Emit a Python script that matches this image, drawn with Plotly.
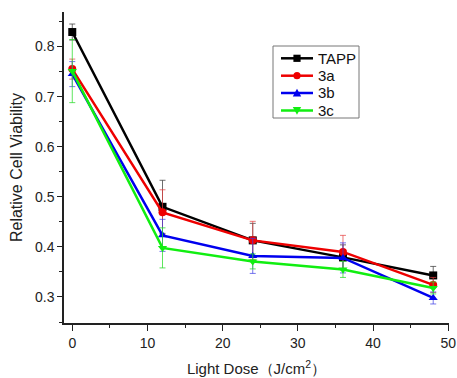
import plotly.graph_objects as go

# Light dose (J/cm^2)
dose = [0, 12, 24, 36, 48]

# Relative cell viability per compound
tapp = [0.829, 0.480, 0.413, 0.379, 0.343]
v3a = [0.755, 0.469, 0.413, 0.390, 0.324]
v3b = [0.745, 0.423, 0.382, 0.378, 0.298]
v3c = [0.751, 0.398, 0.371, 0.355, 0.318]

# Standard deviations
tapp_err = [0.016, 0.053, 0.034, 0.025, 0.018]
v3a_err = [0.020, 0.045, 0.038, 0.033, 0.015]
v3b_err = [0.025, 0.032, 0.035, 0.030, 0.012]
v3c_err = [0.063, 0.040, 0.015, 0.016, 0.012]

names = ["TAPP", "3a", "3b", "3c"]
colors = ["#000000", "#ee0000", "#0000ee", "#11ee11"]
err_colors = ["rgba(60,60,60,0.75)", "rgba(230,60,60,0.7)",
              "rgba(60,60,230,0.7)", "rgba(40,220,40,0.75)"]
symbols = ["square", "circle", "triangle-up", "triangle-down"]

W, H = 457, 378
ML, MR, MT, MB = 64, 8, 12, 55
PW, PH = W - ML - MR, H - MT - MB

fig = go.Figure()
for name, y, err, color, ecolor, symbol in zip(
        names, [tapp, v3a, v3b, v3c], [tapp_err, v3a_err, v3b_err, v3c_err],
        colors, err_colors, symbols):
    fig.add_trace(go.Scatter(
        x=dose, y=y, name=name, mode="lines+markers", showlegend=False,
        line=dict(color=color, width=2.5),
        marker=dict(symbol=symbol, size=8, color=color),
        error_y=dict(type="data", array=err, visible=True,
                     color=ecolor, thickness=1, width=3),
    ))


# Legend box drawn in paper coordinates (pixel helpers)
def px(x):
    return (x - ML) / PW


def py(y):
    return (H - MB - y) / PH


shapes = [dict(type="rect", xref="paper", yref="paper",
               x0=px(273), x1=px(359), y0=py(118), y1=py(46),
               line=dict(color="#777777", width=1), fillcolor="white", layer="above")]
annotations = []
row_y = [58.3, 75.7, 93.0, 110.5]
cx, r = 297, 3.6
for name, color, symbol, yy in zip(names, colors, symbols, row_y):
    shapes.append(dict(type="line", xref="paper", yref="paper",
                       x0=px(281), x1=px(313), y0=py(yy), y1=py(yy),
                       line=dict(color=color, width=2.5), layer="above"))
    if symbol == "square":
        shapes.append(dict(type="rect", xref="paper", yref="paper",
                           x0=px(cx - r), x1=px(cx + r), y0=py(yy + r), y1=py(yy - r),
                           line=dict(width=0), fillcolor=color, layer="above"))
    elif symbol == "circle":
        shapes.append(dict(type="circle", xref="paper", yref="paper",
                           x0=px(cx - r), x1=px(cx + r), y0=py(yy + r), y1=py(yy - r),
                           line=dict(width=0), fillcolor=color, layer="above"))
    else:
        s = 1 if symbol == "triangle-up" else -1
        pts = [(cx, yy - s * (r + 0.6)), (cx - r - 0.6, yy + s * r), (cx + r + 0.6, yy + s * r)]
        path = "M " + " L ".join(f"{px(a):.5f},{py(b):.5f}" for a, b in pts) + " Z"
        shapes.append(dict(type="path", xref="paper", yref="paper", path=path,
                           line=dict(width=0), fillcolor=color, layer="above"))
    annotations.append(dict(text=name, xref="paper", yref="paper",
                            x=px(316), y=py(yy), xanchor="left", yanchor="middle",
                            showarrow=False,
                            font=dict(family="Liberation Sans, Arial, sans-serif",
                                      size=15, color="#111111")))

axis_font = dict(family="Liberation Sans, Arial, sans-serif", size=14, color="#222222")

fig.update_layout(
    width=W, height=H,
    margin=dict(l=ML, r=MR, t=MT, b=MB),
    paper_bgcolor="white", plot_bgcolor="white",
    font=axis_font,
    showlegend=False,
    shapes=shapes,
    annotations=annotations,
    xaxis=dict(
        range=[-1.1, 50.1], tickmode="linear", tick0=0, dtick=10,
        automargin=False,
        showgrid=False, zeroline=False, showline=True,
        linecolor="#222222", linewidth=1.5,
        ticks="outside", ticklen=6, tickwidth=1, tickcolor="#222222",
        minor=dict(ticks="outside", ticklen=3, dtick=5, tick0=0, tickcolor="#222222", showgrid=False),
        title=dict(text="Light Dose（J/cm<sup>2</sup>）", font=dict(size=15), standoff=14),
    ),
    yaxis=dict(
        range=[0.248, 0.869], tickmode="linear", tick0=0.3, dtick=0.1,
        tickformat=".1f", automargin=False,
        showgrid=False, zeroline=False, showline=True,
        linecolor="#222222", linewidth=1.5,
        ticks="outside", ticklen=5, tickwidth=1, tickcolor="#222222",
        minor=dict(ticks="outside", ticklen=3, dtick=0.05, tick0=0.3, tickcolor="#222222", showgrid=False),
        title=dict(text="Relative Cell Viability", font=dict(size=16), standoff=8),
    ),
)

fig.write_html("out.html")
